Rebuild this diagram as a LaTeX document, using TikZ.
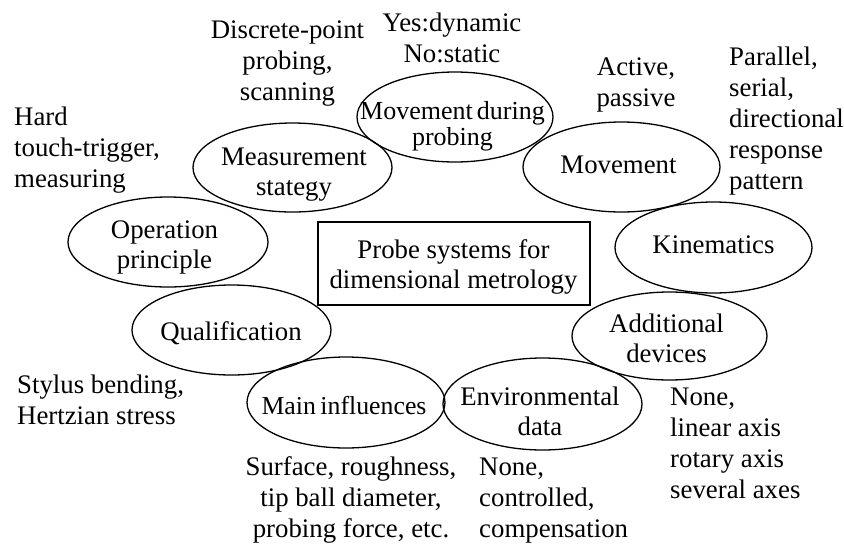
\documentclass[tikz,border=0pt]{standalone}
\usepackage{fontspec}
\setmainfont{Liberation Serif}
\newfontfamily\figfont{Liberation Serif}
\usetikzlibrary{shapes.geometric}
\tikzset{
  oval/.style={draw, ellipse, line width=1.3pt, inner sep=0pt},
  frame/.style={draw, rectangle, line width=1.3pt, inner sep=0pt},
  ilbl/.style={inner sep=0pt, font=\figfont\fontsize{26.8}{30}\selectfont, align=center, anchor=base},
  clbl/.style={inner sep=0pt, font=\figfont\fontsize{26.8}{31}\selectfont, align=center, anchor=base},
  llbl/.style={inner sep=0pt, font=\figfont\fontsize{26.8}{31}\selectfont, align=left, anchor=base west},
}
\begin{document}
\begin{tikzpicture}[x=1pt,y=-1pt]
\useasboundingbox (0,0) rectangle (844,547);
% ellipses
\node[oval, minimum width=196pt, minimum height=90pt] (mdp) at (455,117) {};
\node[oval, minimum width=199pt, minimum height=89pt] (ms) at (292.5,167.5) {};
\node[oval, minimum width=200pt, minimum height=90pt] (op) at (168,242) {};
\node[oval, minimum width=199pt, minimum height=90pt] (q) at (231.5,330) {};
\node[oval, minimum width=198pt, minimum height=91pt] (mi) at (346,402.5) {};
\node[oval, minimum width=199pt, minimum height=92pt] (ed) at (542.5,404) {};
\node[oval, minimum width=195pt, minimum height=88pt] (ad) at (669.5,336) {};
\node[oval, minimum width=197pt, minimum height=91pt] (k) at (713.5,247.5) {};
\node[oval, minimum width=197pt, minimum height=90pt] (m) at (621.5,167) {};
\node[frame, minimum width=272pt, minimum height=83pt] (box) at (454,263.5) {};
% inner texts (anchor = baseline of last line)
\node[ilbl, font=\figfont\fontsize{26}{26}\selectfont] (tmdp) at (452.5,145) {Movement\hspace{4pt}during\\probing};
\node[ilbl] (tms) at (294,195) {Measurement\\stategy};
\node[ilbl] (top) at (164.5,268) {Operation\\principle};
\node[ilbl] (tq) at (231,340) {Qualification};
\node[ilbl, font=\figfont\fontsize{25.8}{30}\selectfont] (tmi) at (344,414) {Main\hspace{4.5pt}influences};
\node[ilbl] (ted) at (540,435) {Environmental\\data};
\node[ilbl] (tad) at (666.5,362) {Additional\\devices};
\node[ilbl] (tk) at (713.5,253) {Kinematics};
\node[ilbl] (tm) at (618.5,173) {Movement};
\node[ilbl] (tbox) at (453.5,288) {Probe systems for\\dimensional metrology};
% outer texts (anchor = baseline of last line)
\node[clbl] (ydyn) at (452,62) {Yes:dynamic\\No:static};
\node[clbl] (disc) at (287.5,100) {Discrete-point\\probing,\\scanning};
\node[llbl] (hard) at (14,187) {Hard\\touch-trigger,\\measuring};
\node[clbl] (act) at (636,106) {Active,\\passive};
\node[llbl] (par) at (729,189) {Parallel,\\serial,\\directional\\response\\pattern};
\node[llbl] (sty) at (17,424) {Stylus bending,\\Hertzian stress};
\node[clbl] (surf) at (351,537) {Surface, roughness,\\tip ball diameter,\\probing force, etc.};
\node[llbl] (none1) at (479,537) {None,\\controlled,\\compensation};
\node[llbl] (none2) at (670,498) {None,\\linear axis\\rotary axis\\several axes};
\end{tikzpicture}
\end{document}
